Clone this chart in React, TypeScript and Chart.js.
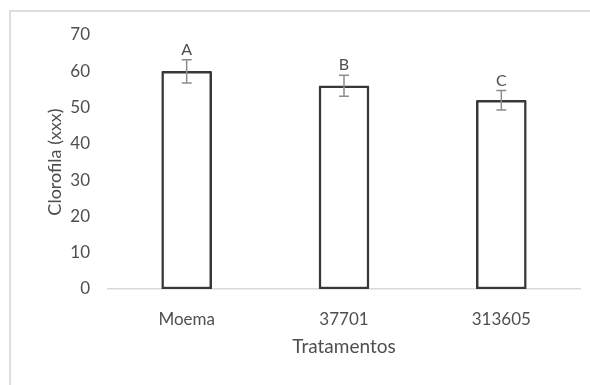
import React, { useEffect, useRef } from "react";
import { Chart, registerables } from "chart.js";

Chart.register(...registerables);

const categories = ["Moema", "37701", "313605"];
const meanValues = [60, 56, 52];
const errorValues = [3.2, 2.9, 2.7];
const groupLetters = ["A", "B", "C"];
const yTicks = [0, 10, 20, 30, 40, 50, 60, 70];

const FONT = "Lato, 'Open Sans', sans-serif";
const TEXT_COLOR = "#4f4f4f";

// Error bars and significance letters drawn on top of each bar
const errorBarPlugin = {
  id: "errorBars",
  afterDatasetsDraw(chart: any) {
    const { ctx, scales } = chart;
    const meta = chart.getDatasetMeta(0);
    const y = scales.y;
    ctx.save();
    meta.data.forEach((bar: any, i: number) => {
      const x = bar.x;
      const top = y.getPixelForValue(meanValues[i] + errorValues[i]);
      const bottom = y.getPixelForValue(meanValues[i] - errorValues[i]);
      ctx.strokeStyle = "#8c8c8c";
      ctx.lineWidth = 1.5;
      ctx.beginPath();
      ctx.moveTo(x, top);
      ctx.lineTo(x, bottom);
      ctx.moveTo(x - 5, top);
      ctx.lineTo(x + 5, top);
      ctx.moveTo(x - 5, bottom);
      ctx.lineTo(x + 5, bottom);
      ctx.stroke();

      ctx.fillStyle = TEXT_COLOR;
      ctx.font = `16px ${FONT}`;
      ctx.textAlign = "center";
      ctx.textBaseline = "alphabetic";
      ctx.fillText(groupLetters[i], x, top - 5);
    });
    ctx.restore();
  },
};

export default function App() {
  const canvasRef = useRef<HTMLCanvasElement>(null);

  useEffect(() => {
    if (!canvasRef.current) return;
    const chart = new Chart(canvasRef.current, {
      type: "bar",
      data: {
        labels: categories,
        datasets: [
          {
            data: meanValues,
            backgroundColor: "#ffffff",
            borderColor: "#383838",
            borderWidth: 2.5,
            borderSkipped: false,
            borderRadius: 1,
            barThickness: 50,
          },
        ],
      },
      options: {
        animation: false,
        responsive: false,
        maintainAspectRatio: false,
        layout: { padding: { top: 35, right: 10, left: 0, bottom: 0 } },
        plugins: {
          legend: { display: false },
          tooltip: { enabled: false },
        },
        scales: {
          x: {
            grid: { display: false, drawTicks: false },
            border: { display: true, color: "#d9d9d9", width: 1.5 },
            ticks: {
              color: TEXT_COLOR,
              font: { family: FONT, size: 17 },
              padding: 20,
            },
            title: {
              display: true,
              text: "Tratamentos",
              color: TEXT_COLOR,
              font: { family: FONT, size: 19 },
              padding: { top: 0, bottom: 27 },
            },
            afterFit(scale: any) {
              scale.height = 96;
            },
          },
          y: {
            min: 0,
            max: 70,
            afterBuildTicks(scale: any) {
              scale.ticks = yTicks.map((v) => ({ value: v }));
            },
            grid: { display: false, drawTicks: false },
            border: { display: false },
            ticks: {
              color: TEXT_COLOR,
              font: { family: FONT, size: 17 },
              padding: 18,
            },
            title: {
              display: true,
              text: "Clorofila (xxx)",
              color: TEXT_COLOR,
              font: { family: FONT, size: 18 },
              padding: { top: 44, bottom: 0 },
            },
            afterFit(scale: any) {
              scale.width = 108;
            },
          },
        },
      },
      plugins: [errorBarPlugin],
    });
    return () => chart.destroy();
  }, []);

  return (
    <div
      style={{
        position: "fixed",
        left: 0,
        top: 0,
        width: 590,
        height: 385,
        overflow: "hidden",
        background: "#ffffff",
      }}
    >
      <canvas ref={canvasRef} width={590} height={385} style={{ display: "block" }} />
      <div
        style={{
          position: "absolute",
          left: 9,
          top: 10,
          width: 700,
          height: 500,
          border: "2px solid #dedede",
          pointerEvents: "none",
        }}
      />
    </div>
  );
}
